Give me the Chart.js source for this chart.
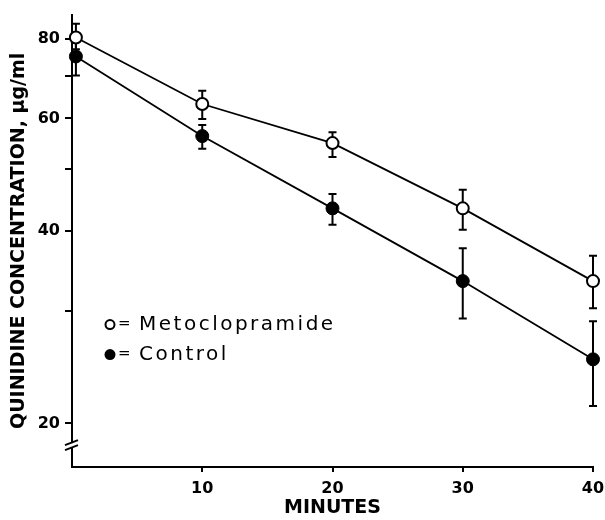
<!DOCTYPE html>
<html>
<head>
<meta charset="utf-8">
<script src="https://cdn.jsdelivr.net/npm/chart.js@4"></script>
<style>
  html, body { margin: 0; padding: 0; background: #fff; }
</style>
</head>
<body>
<canvas id="c" width="605" height="520"></canvas>
<script>
// values (log scale, ug/ml)
var minutes = [0.3, 10, 20, 30, 40];
var meto = [80.3, 63.2, 54.9, 43.4, 33.4];
var metoHigh = [84.4, 66.3, 57.1, 46.4, 36.6];
var metoLow = [77.0, 59.9, 52.2, 40.2, 30.3];
var control = [75.0, 56.3, 43.4, 33.4, 25.2];
var controlHigh = [79.0, 58.6, 45.7, 37.6, 28.9];
var controlLow = [70.0, 53.8, 40.9, 29.2, 21.3];
var yTicks = [20, 30, 40, 50, 60, 70, 80];
var yLabels = [20, 40, 60, 80];
var xTicks = [10, 20, 30, 40];
var breakAt = 18.5;

function points(xs, ys) {
  return xs.map(function (x, i) { return {x: x, y: ys[i]}; });
}

var errorBars = {
  id: 'errorBars',
  beforeDatasetsDraw: function (chart) {
    var ctx = chart.ctx, sx = chart.scales.x, sy = chart.scales.y;
    var sets = [[metoLow, metoHigh], [controlLow, controlHigh]];
    ctx.save();
    ctx.strokeStyle = '#000';
    ctx.lineWidth = 2;
    sets.forEach(function (s) {
      for (var i = 0; i < minutes.length; i++) {
        var x = sx.getPixelForValue(minutes[i]);
        var lo = sy.getPixelForValue(s[0][i]);
        var hi = sy.getPixelForValue(s[1][i]);
        ctx.beginPath();
        ctx.moveTo(x, lo); ctx.lineTo(x, hi);
        ctx.moveTo(x - 4, lo); ctx.lineTo(x + 4, lo);
        ctx.moveTo(x - 4, hi); ctx.lineTo(x + 4, hi);
        ctx.stroke();
      }
    });
    ctx.restore();
  }
};

var extras = {
  id: 'extras',
  afterDraw: function (chart) {
    var ctx = chart.ctx, area = chart.chartArea, sy = chart.scales.y;
    ctx.save();
    // axis break on the y axis
    var bx = area.left, by = sy.getPixelForValue(breakAt);
    ctx.fillStyle = '#fff';
    ctx.fillRect(bx - 3, by - 2, 6, 4);
    ctx.strokeStyle = '#000';
    ctx.lineWidth = 2;
    ctx.beginPath();
    ctx.moveTo(bx - 7, by); ctx.lineTo(bx + 6, by - 5);
    ctx.moveTo(bx - 7, by + 5); ctx.lineTo(bx + 6, by);
    ctx.stroke();

    // legend
    var lx = area.left + 38, ly1 = area.top + 310, ly2 = area.top + 340;
    ctx.lineWidth = 2;
    ctx.beginPath();
    ctx.arc(lx, ly1, 4.5, 0, Math.PI * 2);
    ctx.fillStyle = '#fff';
    ctx.fill();
    ctx.stroke();
    ctx.beginPath();
    ctx.arc(lx, ly2, 5.5, 0, Math.PI * 2);
    ctx.fillStyle = '#000';
    ctx.fill();
    ctx.fillStyle = '#000';
    ctx.textBaseline = 'middle';
    ctx.font = '15px "DejaVu Sans"';
    ctx.fillText('=', lx + 8, ly1);
    ctx.fillText('=', lx + 8, ly2);
    ctx.letterSpacing = '2.5px';
    ctx.font = '20px "DejaVu Sans"';
    ctx.fillText('Metoclopramide', lx + 29, ly1);
    ctx.fillText('Control', lx + 29, ly2);
    ctx.restore();
  }
};

var tickFont = {family: '"DejaVu Sans"', weight: 'bold', size: 16};
var titleFont = {family: '"DejaVu Sans"', weight: 'bold', size: 19};

var chart = new Chart(document.getElementById('c'), {
  type: 'line',
  data: {
    datasets: [
      {
        label: 'Metoclopramide',
        data: points(minutes, meto),
        borderColor: '#000',
        borderWidth: 1.8,
        pointRadius: 6,
        pointBorderWidth: 2,
        pointBorderColor: '#000',
        pointBackgroundColor: '#fff',
        clip: false
      },
      {
        label: 'Control',
        data: points(minutes, control),
        borderColor: '#000',
        borderWidth: 1.8,
        pointRadius: 6.5,
        pointBorderWidth: 1,
        pointBorderColor: '#000',
        pointBackgroundColor: '#000',
        clip: false
      }
    ]
  },
  options: {
    responsive: false,
    animation: false,
    layout: {padding: {top: 12, right: 12, left: 0, bottom: 0}},
    plugins: {legend: {display: false}, tooltip: {enabled: false}},
    scales: {
      x: {
        type: 'linear',
        min: 0,
        max: 40,
        afterBuildTicks: function (s) { s.ticks = xTicks.map(function (v) { return {value: v}; }); },
        afterFit: function (s) { s.height = 53; s.paddingRight = 0; s.paddingLeft = 0; },
        grid: {drawOnChartArea: false, drawTicks: true, tickLength: 5, color: '#000', lineWidth: 2},
        border: {color: '#000', width: 2},
        ticks: {color: '#000', font: tickFont, padding: 7, maxRotation: 0, autoSkip: false},
        title: {display: true, text: 'MINUTES', color: '#000', font: titleFont, padding: {top: 0, bottom: 1}}
      },
      y: {
        type: 'logarithmic',
        min: 17.1,
        max: 87.2,
        bounds: 'data',
        afterBuildTicks: function (s) { s.ticks = yTicks.map(function (v) { return {value: v}; }); },
        afterFit: function (s) { s.width = 72; },
        grid: {drawOnChartArea: false, drawTicks: true, tickLength: 7, color: '#000', lineWidth: 2},
        border: {color: '#000', width: 2},
        ticks: {
          color: '#000',
          font: tickFont,
          padding: 5,
          autoSkip: false,
          callback: function (v) { return yLabels.indexOf(v) >= 0 ? String(v) : ''; }
        },
        title: {display: true, text: 'QUINIDINE CONCENTRATION, \u00b5g/ml', color: '#000', font: titleFont, padding: {top: 8, bottom: 0}}
      }
    }
  },
  plugins: [errorBars, extras]
});
</script>
</body>
</html>
